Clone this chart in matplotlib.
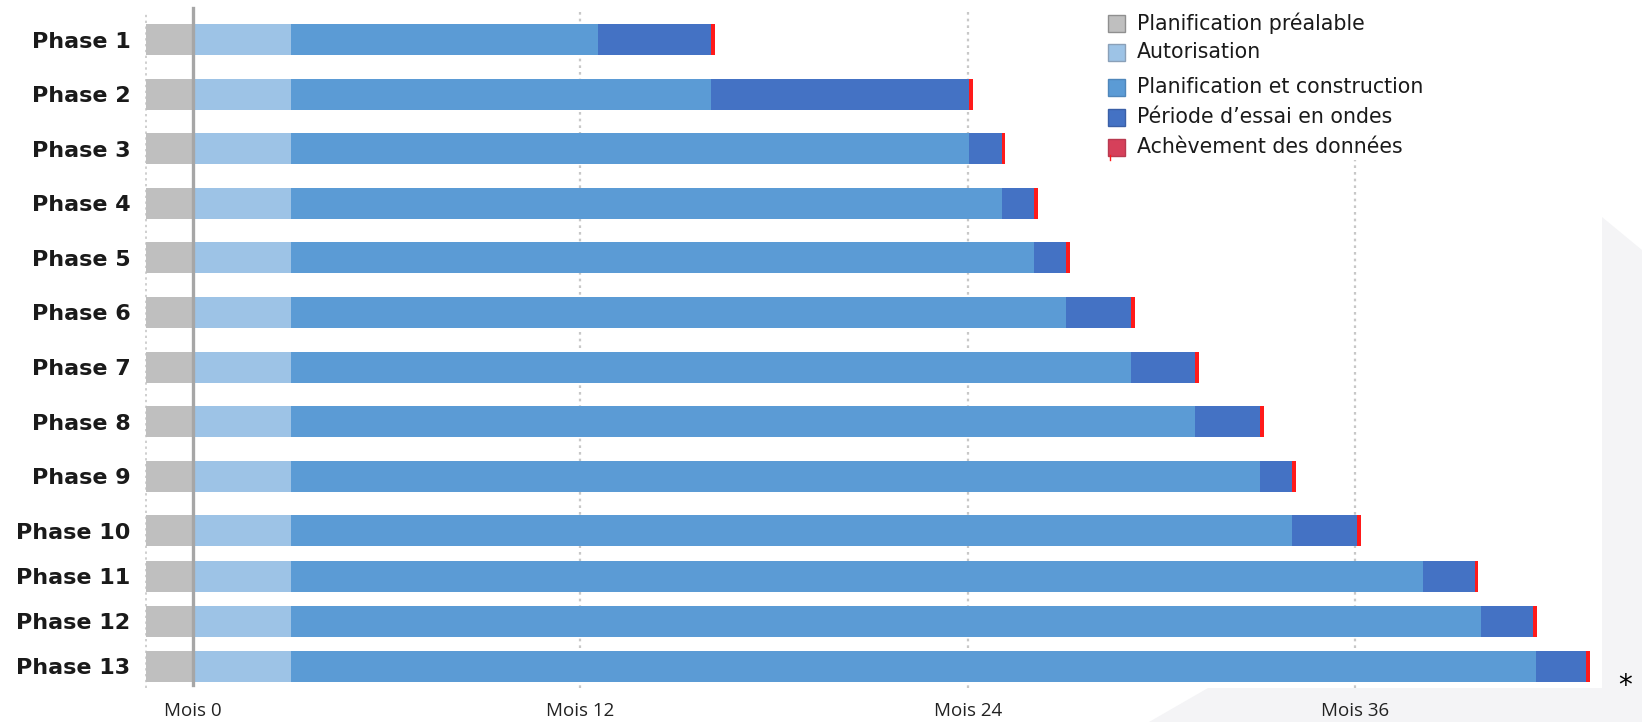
import numpy as np
import matplotlib.pyplot as plt
from matplotlib.patches import Polygon, Rectangle

# data (months)
phases = ["Phase 1", "Phase 2", "Phase 3", "Phase 4", "Phase 5", "Phase 6", "Phase 7",
          "Phase 8", "Phase 9", "Phase 10", "Phase 11", "Phase 12", "Phase 13"]
prealable = [1.45] * 13
autorisation = [3.05] * 13
construction = [9.5, 13.0, 21.0, 22.0, 23.0, 24.0, 26.0, 28.0, 30.0, 31.0, 35.05, 36.85, 38.55]
essai = [3.5, 8.0, 1.0, 1.0, 1.0, 2.0, 2.0, 2.0, 1.0, 2.0, 1.6, 1.6, 1.55]
achevement = [0.12] * 13

tick_months = [0, 12, 24, 36]
tick_labels = ["Mois 0", "Mois 12", "Mois 24", "Mois 36"]

legend_labels = ["Planification préalable", "Autorisation", "Planification et construction",
                 "Période d’essai en ondes", "Achèvement des données"]

c_gray = "#bfbfbf"
c_light = "#9dc3e6"
c_mid = "#5b9bd5"
c_dark = "#4472c4"
c_red = "#ff1a1a"

W, H = 1642, 722
fig = plt.figure(figsize=(W / 100, H / 100), dpi=100)
fig.patch.set_facecolor("white")

# light grey backdrop at the bottom right
bg = fig.add_axes([0, 0, 1, 1], zorder=0)
bg.set_xlim(0, W)
bg.set_ylim(H, 0)
bg.axis("off")
bg.add_patch(Polygon([(1149, 722), (1208, 688), (1602, 688), (1602, 217), (1642, 250), (1642, 722)],
                     closed=True, color="#f4f4f6", lw=0))

# main chart, y in pixel-like units
px_per_month = 32.29
x0_px = 192.7
ax_left, ax_right, ax_bottom = 140, 1602, 688
ax = fig.add_axes([ax_left / W, (H - ax_bottom) / H, (ax_right - ax_left) / W, ax_bottom / H], zorder=1)
ax.set_xlim((ax_left - x0_px) / px_per_month, (ax_right - x0_px) / px_per_month)
ax.set_ylim(ax_bottom, 0)

rows = np.r_[39.5 + 54.6 * np.arange(10), 576.0, 621.0, 666.0]
h = 31

pre = np.array(prealable)
aut = np.array(autorisation)
con = np.array(construction)
ess = np.array(essai)
ach = np.array(achevement)

ax.barh(rows, pre, left=-pre, height=h, color=c_gray, lw=0)
ax.barh(rows, aut, left=0, height=h, color=c_light, lw=0)
ax.barh(rows, con, left=aut, height=h, color=c_mid, lw=0)
ax.barh(rows, ess, left=aut + con, height=h, color=c_dark, lw=0)
ax.barh(rows, ach, left=aut + con + ess, height=h, color=c_red, lw=0)

# grid lines
for m in tick_months[1:]:
    ax.axvline(m, ymin=0, ymax=1 - 10 / ax_bottom, color="#c8c8c8", ls=(0, (1.2, 1.8)), lw=1.6, zorder=0)
ax.axvline(-prealable[0], ymin=0, ymax=1 - 12 / ax_bottom, color="#cfcfcf", ls=(0, (1.2, 1.8)), lw=1.4, zorder=0)
ax.axvline(0, ymin=0.005, ymax=1 - 8 / ax_bottom, color="#a6a6a6", lw=2.4, zorder=3)

ax.set_yticks(rows)
ax.set_yticklabels(phases, fontsize=16, fontweight="bold", color="#1a1a1a", family="DejaVu Sans")
ax.set_xticks(tick_months)
ax.set_xticklabels(tick_labels, fontsize=13.5, color="#222222", family="Open Sans")
ax.tick_params(axis="both", length=0)
ax.tick_params(axis="y", pad=7)
ax.tick_params(axis="x", pad=10)
for s in ax.spines.values():
    s.set_visible(False)

# legend and asterisk
ov = fig.add_axes([0, 0, 1, 1], zorder=2)
ov.set_xlim(0, W)
ov.set_ylim(H, 0)
ov.axis("off")
ov.patch.set_alpha(0)
ov.add_patch(Rectangle((1100, 5), 370, 155, color="white", lw=0))
leg_y = [23, 52, 87, 117, 147]
leg_fc = [c_gray, c_light, c_mid, c_dark, "#d6405a"]
leg_ec = ["#8f8f8f", "#8aa0b8", "#4f86ba", "#3a5fa6", "#b83a50"]
for y, fc, ec, lab in zip(leg_y, leg_fc, leg_ec, legend_labels):
    ov.add_patch(Rectangle((1108, y - 8.5), 17, 17, facecolor=fc, edgecolor=ec, lw=1))
    ov.text(1137, y, lab, fontsize=14.8, va="center", ha="left", color="#1a1a1a", family="DejaVu Sans")
ov.plot([1110, 1110], [155, 160], color=c_red, lw=1)
ov.text(1625, 686, "*", fontsize=20, ha="center", va="center", color="black")

fig.savefig("out.png", dpi=100, facecolor="white")
